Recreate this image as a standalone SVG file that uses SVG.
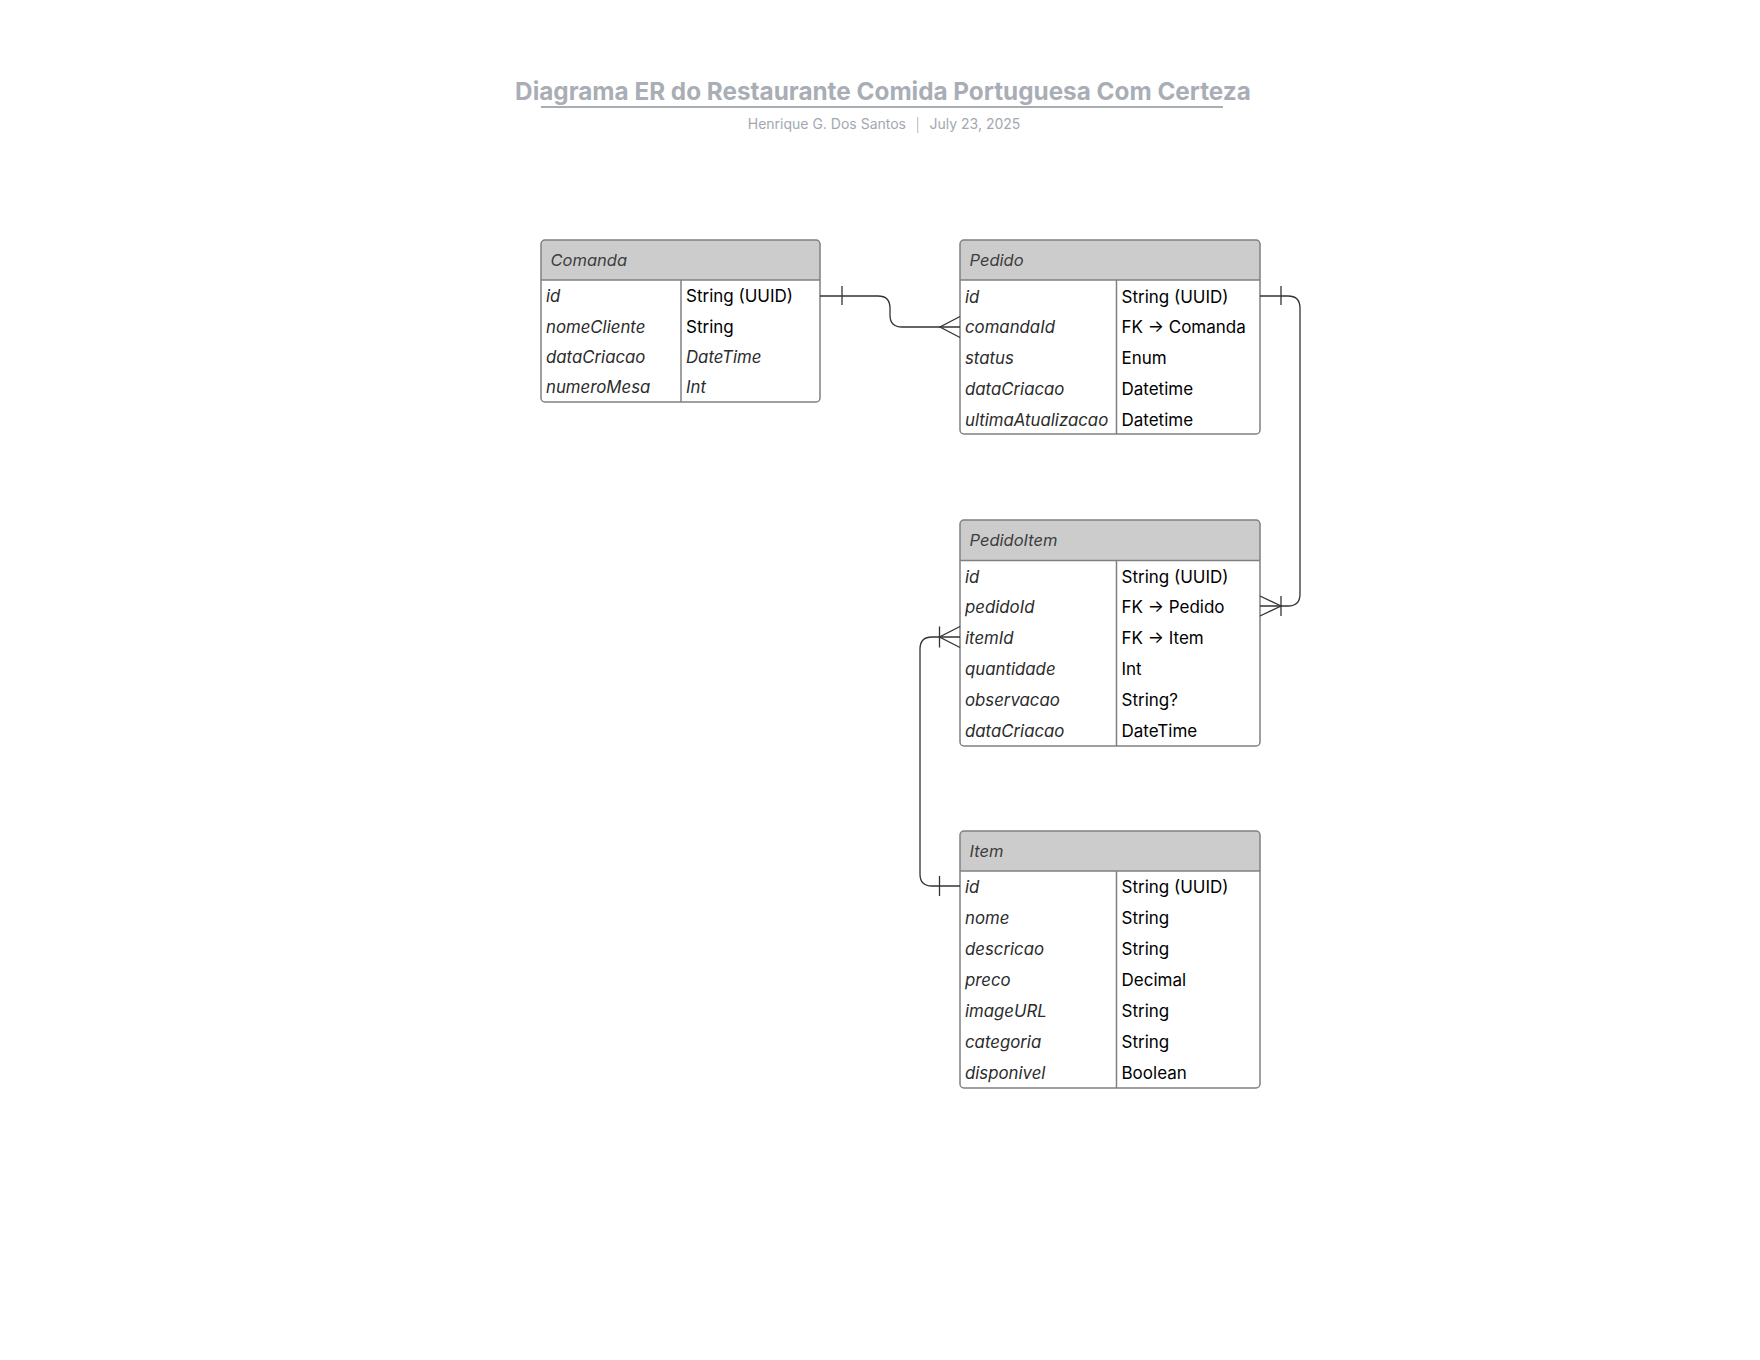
<svg xmlns="http://www.w3.org/2000/svg" width="1760" height="1360" viewBox="0 0 1760 1360">
<style>
  .title{font-family:Inter,"Liberation Sans",sans-serif;font-weight:700;font-size:24.3px;fill:#a9aeb6}
  .sub{font-family:Inter,"Liberation Sans",sans-serif;font-size:14px;fill:#a3a8b0}
  .box{fill:none;stroke:#808080;stroke-width:1.5}
  .hdr{fill:#cccccc}
  .sep{stroke:#808080;stroke-width:1.5}
  .htext{font-family:Inter,"Liberation Sans",sans-serif;font-style:italic;font-size:16.5px;fill:#3d3d3d}
  .name{font-family:Inter,"Liberation Sans",sans-serif;font-style:italic;font-size:16.8px;fill:#2b2b2b}
  .type{font-family:Inter,"Liberation Sans",sans-serif;font-size:17px;fill:#000000}
  .typei{font-family:Inter,"Liberation Sans",sans-serif;font-style:italic;font-size:16.8px;fill:#2b2b2b}
  .conn{fill:none;stroke:#333333;stroke-width:1.3}
</style>
<rect width="1760" height="1360" fill="#ffffff"/>
<g id="title">
  <text class="title" x="883" y="100" text-anchor="middle">Diagrama ER do Restaurante Comida Portuguesa Com Certeza</text>
  <rect x="541" y="106" width="682" height="2" fill="#a9aeb6"/>
  <text class="sub" x="906" y="129" text-anchor="end">Henrique G. Dos Santos</text>
  <line x1="917.7" y1="117" x2="917.7" y2="133" stroke="#b5b9c0" stroke-width="1"/>
  <text class="sub" x="929.5" y="129">July 23, 2025</text>
</g>

<g id="comanda">
  <path class="hdr" d="M541,280 V244 Q541,240 545,240 H816 Q820,240 820,244 V280 Z"/>
  <rect class="box" x="541" y="240" width="279" height="162" rx="4"/>
  <line class="sep" x1="541" y1="280" x2="820" y2="280"/>
  <line class="sep" x1="681" y1="280" x2="681" y2="402"/>
  <text class="htext" x="550.5" y="266">Comanda</text>
  <text class="name" x="546" y="302">id</text><text class="type" x="686" y="302">String (UUID)</text>
  <text class="name" x="546" y="332.5">nomeCliente</text><text class="type" x="686" y="332.5">String</text>
  <text class="name" x="546" y="363">dataCriacao</text><text class="typei" x="686" y="363">DateTime</text>
  <text class="name" x="546" y="393">numeroMesa</text><text class="typei" x="686" y="393">Int</text>
</g>

<g id="pedido">
  <path class="hdr" d="M960,280 V244 Q960,240 964,240 H1256 Q1260,240 1260,244 V280 Z"/>
  <rect class="box" x="960" y="240" width="300" height="194" rx="4"/>
  <line class="sep" x1="960" y1="280" x2="1260" y2="280"/>
  <line class="sep" x1="1116.5" y1="280" x2="1116.5" y2="434"/>
  <text class="htext" x="969.5" y="266">Pedido</text>
  <text class="name" x="965" y="302.5">id</text><text class="type" x="1121.5" y="302.5">String (UUID)</text>
  <text class="name" x="965" y="333">comandaId</text><text class="type" x="1121.5" y="333">FK → Comanda</text>
  <text class="name" x="965" y="364">status</text><text class="type" x="1121.5" y="364">Enum</text>
  <text class="name" x="965" y="395">dataCriacao</text><text class="type" x="1121.5" y="395">Datetime</text>
  <text class="name" x="965" y="426">ultimaAtualizacao</text><text class="type" x="1121.5" y="426">Datetime</text>
</g>

<g id="pedidoitem">
  <path class="hdr" d="M960,560.5 V524 Q960,520 964,520 H1256 Q1260,520 1260,524 V560.5 Z"/>
  <rect class="box" x="960" y="520" width="300" height="226" rx="4"/>
  <line class="sep" x1="960" y1="560.5" x2="1260" y2="560.5"/>
  <line class="sep" x1="1116.5" y1="560.5" x2="1116.5" y2="746"/>
  <text class="htext" x="969.5" y="546">PedidoItem</text>
  <text class="name" x="965" y="582.5">id</text><text class="type" x="1121.5" y="582.5">String (UUID)</text>
  <text class="name" x="965" y="613">pedidoId</text><text class="type" x="1121.5" y="613">FK → Pedido</text>
  <text class="name" x="965" y="644">itemId</text><text class="type" x="1121.5" y="644">FK → Item</text>
  <text class="name" x="965" y="675">quantidade</text><text class="type" x="1121.5" y="675">Int</text>
  <text class="name" x="965" y="706">observacao</text><text class="type" x="1121.5" y="706">String?</text>
  <text class="name" x="965" y="737">dataCriacao</text><text class="type" x="1121.5" y="737">DateTime</text>
</g>

<g id="item">
  <path class="hdr" d="M960,871 V835 Q960,831 964,831 H1256 Q1260,831 1260,835 V871 Z"/>
  <rect class="box" x="960" y="831" width="300" height="257" rx="4"/>
  <line class="sep" x1="960" y1="871" x2="1260" y2="871"/>
  <line class="sep" x1="1116.5" y1="871" x2="1116.5" y2="1088"/>
  <text class="htext" x="969.5" y="857">Item</text>
  <text class="name" x="965" y="892.5">id</text><text class="type" x="1121.5" y="892.5">String (UUID)</text>
  <text class="name" x="965" y="923.5">nome</text><text class="type" x="1121.5" y="923.5">String</text>
  <text class="name" x="965" y="954.5">descricao</text><text class="type" x="1121.5" y="954.5">String</text>
  <text class="name" x="965" y="985.5">preco</text><text class="type" x="1121.5" y="985.5">Decimal</text>
  <text class="name" x="965" y="1016.5">imageURL</text><text class="type" x="1121.5" y="1016.5">String</text>
  <text class="name" x="965" y="1047.5">categoria</text><text class="type" x="1121.5" y="1047.5">String</text>
  <text class="name" x="965" y="1078.5">disponivel</text><text class="type" x="1121.5" y="1078.5">Boolean</text>
</g>

<g id="connectors">
  <path class="conn" d="M820,296 H878 Q890,296 890,308 V315 Q890,327 902,327 H960"/>
  <path class="conn" d="M842,286 V305"/>
  <path class="conn" d="M960,316.5 L940,327 L960,337.5"/>

  <path class="conn" d="M1260,296 H1288 Q1300,296 1300,308 V594 Q1300,606 1288,606 H1260"/>
  <path class="conn" d="M1281,286 V305"/>
  <path class="conn" d="M1281,596 V616"/>
  <path class="conn" d="M1260,596 L1281,606 L1260,616"/>

  <path class="conn" d="M960,886 H932 Q920,886 920,874 V649 Q920,637 932,637 H960"/>
  <path class="conn" d="M939.5,876 V896"/>
  <path class="conn" d="M939.5,626.5 V647.5"/>
  <path class="conn" d="M960,626.5 L939.5,637 L960,647.5"/>
</g>
</svg>
